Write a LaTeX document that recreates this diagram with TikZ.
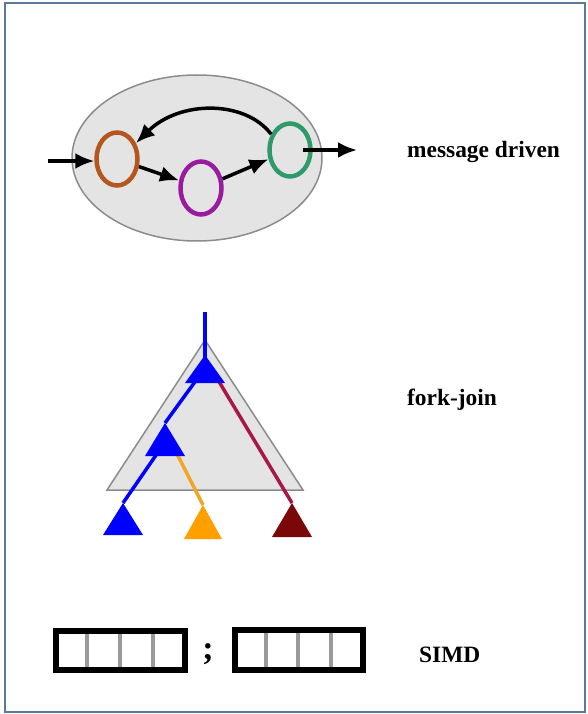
\documentclass[tikz,border=0pt]{standalone}
\usepackage{fontspec}
\setmainfont{Liberation Serif}
\usetikzlibrary{arrows.meta,shapes.geometric}
\definecolor{frameC}{HTML}{5B7A9B}
\definecolor{ellFill}{HTML}{E4E4E4}
\definecolor{ellDraw}{HTML}{8C8C8C}
\definecolor{cOrange}{HTML}{B5561E}
\definecolor{cPurple}{HTML}{9A1C9E}
\definecolor{cGreen}{HTML}{2E9A6A}
\definecolor{triBlue}{HTML}{0000FF}
\definecolor{triOrange}{HTML}{FFA000}
\definecolor{lineOrange}{HTML}{F2A526}
\definecolor{triRed}{HTML}{7A0808}
\definecolor{lineRed}{HTML}{A8174A}
\definecolor{divGray}{HTML}{9A9A9A}
\tikzset{
  actor/.style={ellipse,draw,line width=4.5pt,minimum width=41pt,minimum height=53pt,inner sep=0pt},
  msgarrow/.style={line width=3.5pt,-{Latex[length=19pt,width=16pt]}},
  lbl/.style={anchor=base west,inner sep=0pt,font=\fontsize{23.4}{28}\selectfont\bfseries},
  fjline/.style={line width=3.5pt},
  simdbox/.style={draw=black,line width=6pt,fill=white},
  simddiv/.style={draw=divGray,line width=3.5pt}
}
\newcommand\fjtri[4]{% color, apex name, half width, height
  \fill[#1] (#2) -- ++(-#3,#4) -- ++(2*#3,0) -- cycle;}
\begin{document}
\begin{tikzpicture}[x=1pt,y=-1pt]
\useasboundingbox (0,0) rectangle (588,714);
\draw[frameC,line width=2pt,fill=white] (5,3) rectangle (585,712);

% ---- message driven ----
\node[ellipse,draw=ellDraw,fill=ellFill,line width=1.5pt,minimum width=250pt,minimum height=166pt,inner sep=0pt] (cloud) at (197,158) {};
\node[actor,draw=cOrange] (o) at (117,159) {};
\node[actor,draw=cPurple] (p) at (201,188) {};
\node[actor,draw=cGreen] (g) at (290,150) {};
\coordinate (in) at (48,161);
\coordinate (outS) at (303,150);
\coordinate (outE) at (357,150);
\draw[msgarrow] (in) -- (in -| o.west);
\draw[msgarrow] (o) -- (p);
\draw[msgarrow] (p) -- (g);
\draw[msgarrow] (g.140) .. controls (245,100) and (180,100) .. (o.40);
\draw[msgarrow] (outS) -- (outE);
\node[lbl] (lmsg) at (407,158) {message driven};

% ---- fork-join ----
\coordinate (gA) at (205,340);
\coordinate (gL) at (107,490);
\coordinate (gR) at (303,490);
\filldraw[fill=ellFill,draw=ellDraw,line width=1.5pt] (gA) -- (gL) -- (gR) -- cycle;
\coordinate (top) at (205,312);
\coordinate (t1) at (205,355);
\coordinate (t2) at (165,423);
\coordinate (t3) at (123,503);
\coordinate (t4) at (203,505);
\coordinate (t5) at (292,503);
\draw[fjline,triBlue] (top) -- (205,365);
\draw[fjline,triBlue] (205,368) -- (t2);
\draw[fjline,triBlue] (163,445) -- (t3);
\draw[fjline,lineOrange] (175,450) -- (t4);
\draw[fjline,lineRed] (215,375) -- (t5);
\fjtri{triBlue}{t1}{20}{28}
\fjtri{triBlue}{t2}{20}{33}
\fjtri{triBlue}{t3}{20}{32}
\fjtri{triOrange}{t4}{19}{34}
\fjtri{triRed}{t5}{20}{34}
\node[lbl] (lfj) at (407,405) {fork-join};

% ---- SIMD ----
\draw[simdbox] (56,631) rectangle (185,670);
\foreach \x in {87,120,153} \draw[simddiv] (\x,634) -- (\x,667);
\draw[simdbox] (235,630) rectangle (363,670);
\foreach \x in {266,298,331} \draw[simddiv] (\x,633) -- (\x,667);
\node[anchor=base,inner sep=0pt,font=\fontsize{34}{38}\selectfont\bfseries] (semi) at (208,659) {;};
\node[lbl] (lsimd) at (419,662) {SIMD};
\end{tikzpicture}
\end{document}
